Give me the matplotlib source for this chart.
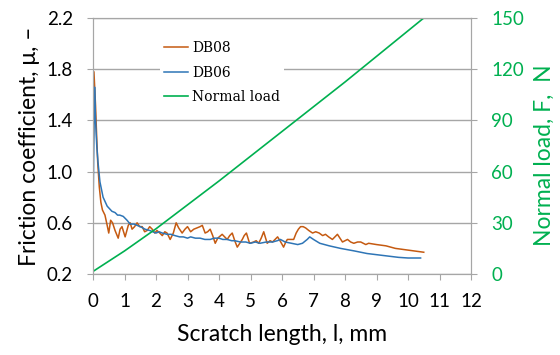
import numpy as np
import matplotlib
matplotlib.use("Agg")
import matplotlib.pyplot as plt

# ---- data ----
db08_x = [0.00, 0.03, 0.08, 0.12, 0.15, 0.20, 0.25, 0.30, 0.38, 0.45, 0.50, 0.56, 0.62,
          0.70, 0.80, 0.86, 0.92, 1.02, 1.12, 1.18, 1.24, 1.32, 1.40, 1.48, 1.56, 1.64,
          1.72, 1.80, 1.88, 1.96, 2.03, 2.12, 2.20, 2.28, 2.35, 2.45, 2.55, 2.64, 2.72,
          2.83, 2.92, 3.00, 3.10, 3.20, 3.30, 3.40, 3.47, 3.56, 3.64, 3.72, 3.80, 3.88,
          3.96, 4.10, 4.18, 4.26, 4.34, 4.42, 4.50, 4.58, 4.66, 4.74, 4.80, 4.87, 4.97,
          5.10, 5.18, 5.26, 5.34, 5.42, 5.48, 5.53, 5.62, 5.70, 5.78, 5.86, 5.96, 6.05,
          6.12, 6.17, 6.27, 6.37, 6.45, 6.52, 6.59, 6.67, 6.75, 6.85, 6.97, 7.07, 7.18,
          7.29, 7.38, 7.48, 7.60, 7.68, 7.76, 7.84, 7.92, 8.00, 8.08, 8.18, 8.28, 8.40,
          8.50, 8.58, 8.66, 8.75, 9.00, 9.30, 9.60, 9.90, 10.20, 10.50]
db08_mu = [1.00, 1.78, 1.52, 1.25, 1.07, 0.88, 0.76, 0.70, 0.66, 0.58, 0.52, 0.62, 0.60,
           0.54, 0.48, 0.55, 0.57, 0.49, 0.58, 0.60, 0.55, 0.57, 0.60, 0.57, 0.57, 0.53,
           0.54, 0.57, 0.55, 0.52, 0.54, 0.52, 0.50, 0.53, 0.52, 0.47, 0.52, 0.60, 0.56,
           0.52, 0.55, 0.57, 0.53, 0.55, 0.56, 0.57, 0.58, 0.52, 0.53, 0.55, 0.50, 0.44,
           0.48, 0.51, 0.49, 0.47, 0.50, 0.52, 0.46, 0.41, 0.44, 0.47, 0.50, 0.52, 0.44,
           0.45, 0.46, 0.44, 0.48, 0.53, 0.48, 0.44, 0.46, 0.45, 0.47, 0.49, 0.45, 0.41,
           0.45, 0.47, 0.47, 0.47, 0.52, 0.55, 0.57, 0.57, 0.56, 0.54, 0.52, 0.53, 0.52,
           0.50, 0.51, 0.49, 0.47, 0.49, 0.51, 0.48, 0.45, 0.46, 0.47, 0.45, 0.44, 0.45,
           0.45, 0.44, 0.43, 0.44, 0.43, 0.42, 0.40, 0.39, 0.38, 0.37]

db06_x = [0.00, 0.02, 0.05, 0.08, 0.12, 0.16, 0.22, 0.32, 0.45, 0.60, 0.70, 0.78, 0.85,
          0.96, 1.08, 1.18, 1.30, 1.40, 1.50, 1.58, 1.65, 1.80, 1.90, 2.00, 2.10, 2.20,
          2.35, 2.48, 2.60, 2.75, 2.87, 3.00, 3.10, 3.25, 3.40, 3.55, 3.72, 3.85, 4.00,
          4.12, 4.26, 4.40, 4.50, 4.68, 4.85, 5.00, 5.15, 5.30, 5.50, 5.70, 5.85, 5.95,
          6.10, 6.30, 6.50, 6.65, 6.80, 6.88, 7.00, 7.20, 7.50, 7.86, 8.30, 8.70, 9.20,
          9.70, 10.00, 10.40]
db06_mu = [0.61, 1.10, 1.66, 1.40, 1.20, 1.07, 0.92, 0.80, 0.73, 0.69, 0.68, 0.66, 0.66,
           0.65, 0.62, 0.59, 0.59, 0.58, 0.57, 0.56, 0.55, 0.54, 0.53, 0.52, 0.53, 0.52,
           0.51, 0.51, 0.50, 0.49, 0.49, 0.48, 0.49, 0.48, 0.48, 0.47, 0.47, 0.48, 0.48,
           0.47, 0.47, 0.46, 0.46, 0.45, 0.45, 0.44, 0.45, 0.44, 0.45, 0.45, 0.46, 0.47,
           0.45, 0.44, 0.43, 0.44, 0.47, 0.49, 0.47, 0.44, 0.42, 0.40, 0.38, 0.36, 0.345,
           0.33, 0.325, 0.325]

load_x = [0, 1, 2, 3, 4, 5, 6, 7, 8, 9, 10, 10.5]
load_n = [1.5, 13.5, 26.5, 40.5, 54.5, 69, 83.5, 98, 112.5, 127.5, 142.5, 150]

x_ticks = list(range(0, 13))
mu_ticks = [0.2, 0.6, 1.0, 1.4, 1.8, 2.2]
load_ticks = [0, 30, 60, 90, 120, 150]

c_orange = "#C55A11"
c_blue = "#2E75B6"
c_green = "#00B050"
c_gray = "#A6A6A6"

plt.rcParams["font.family"] = ["Lato", "DejaVu Sans"]

fig = plt.figure(figsize=(5.6, 3.55), dpi=100)
ax = fig.add_axes([93 / 560, 1 - 274 / 355, (471 - 93) / 560, (274 - 18) / 355])
ax2 = ax.twinx()

l1, = ax.plot(db08_x, db08_mu, color=c_orange, lw=1.1, label="DB08")
l2, = ax.plot(db06_x, db06_mu, color=c_blue, lw=1.1, label="DB06")
l3, = ax2.plot(load_x, load_n, color=c_green, lw=1.2, label="Normal load")

ax.set_xlim(0, 12)
ax.set_ylim(0.2, 2.2)
ax2.set_ylim(0, 150)
ax.set_xticks(x_ticks)
ax.set_yticks(mu_ticks)
ax.set_yticklabels([f"{v:.1f}" for v in mu_ticks])
ax2.set_yticks(load_ticks)

ax.yaxis.grid(True, color=c_gray, lw=1.0)
ax.set_axisbelow(True)
for a in (ax, ax2):
    for s in a.spines.values():
        s.set_color(c_gray)
ax.tick_params(axis="both", direction="out", length=4.5, color=c_gray,
               labelsize=13.5, pad=10)
ax.tick_params(axis="x", pad=9)
ax2.tick_params(axis="y", direction="out", length=4.5, color=c_gray,
                labelsize=13.5, labelcolor=c_green, pad=10)

ax.set_xlabel("Scratch length, l, mm", fontsize=16.5, labelpad=10)
ax.set_ylabel("Friction coefficient, μ, –", fontsize=16.5, labelpad=5)
ax2.set_ylabel("Normal load, F,  N", fontsize=16.5, color=c_green)
ax2.yaxis.set_label_coords(1.165, 0.465)

leg = ax2.legend(handles=[l1, l2, l3], loc="upper left",
                 bbox_to_anchor=(153 / 560, 1 - 30 / 355), bbox_transform=fig.transFigure,
                 frameon=True, fancybox=False, edgecolor="none", facecolor="white",
                 framealpha=1.0, handlelength=1.7, handletextpad=0.3,
                 labelspacing=0.75, borderpad=0.3,
                 prop={"family": "DejaVu Serif", "size": 10})

fig.savefig("out.png", dpi=100)
